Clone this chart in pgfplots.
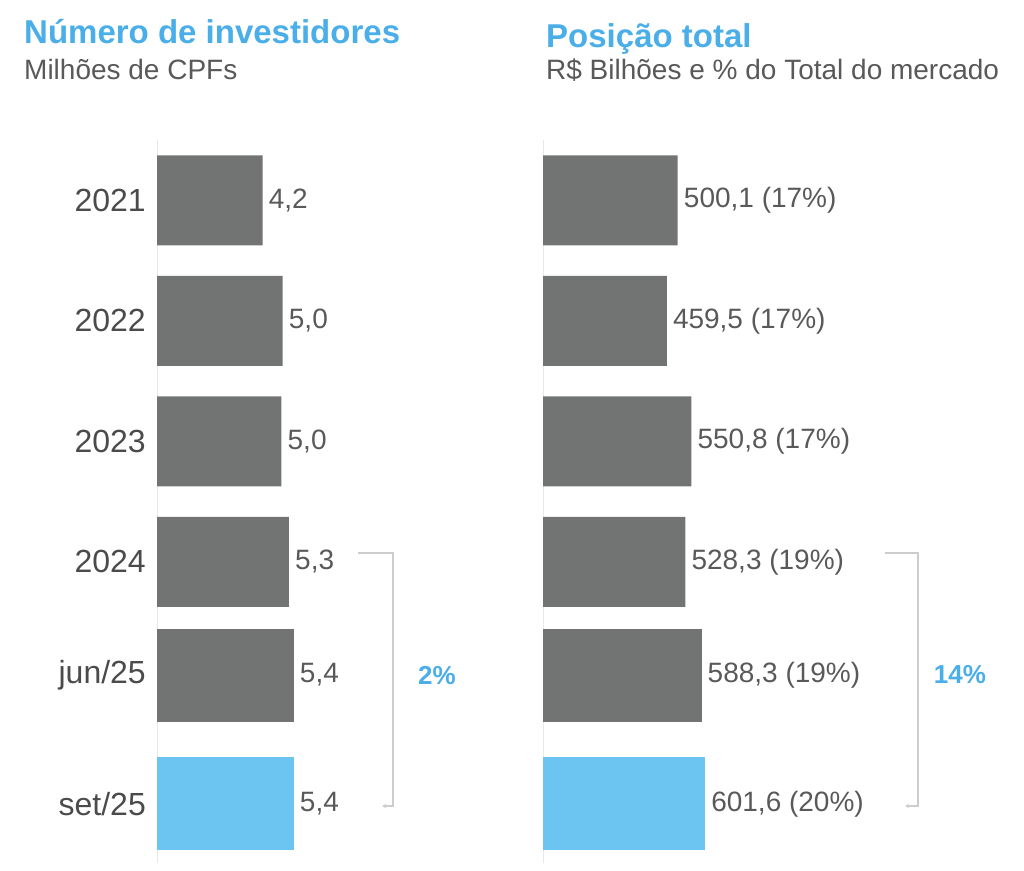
\documentclass[border=0pt]{standalone}
\usepackage{fontspec}
\setmainfont{Liberation Sans}
\usepackage{pgfplots}
\pgfplotsset{compat=1.18}
\usetikzlibrary{arrows.meta}
\definecolor{bargray}{RGB}{113,116,115}
\definecolor{barblue}{RGB}{108,197,240}
\definecolor{titleblue}{RGB}{74,174,232}
\definecolor{valgray}{RGB}{89,89,89}
\definecolor{tickgray}{RGB}{75,75,75}
\definecolor{axisgray}{RGB}{232,232,232}
\definecolor{brackgray}{RGB}{205,205,205}

\pgfplotsset{
  hbars/.style={
    scale only axis, anchor=south west,
    height=723pt, xbar, bar width=90pt,
    ymin=-0.5, ymax=5.5, y dir=reverse,
    axis x line=none, axis y line*=left,
    y axis line style={draw=axisgray, line width=1pt, -},
    ytick={0,1,2,3,3.94,5.01}, major tick length=0pt,
    point meta=explicit symbolic,
    nodes near coords={\pgfplotspointmeta},
    nodes near coords style={font=\fontsize{28}{31}\selectfont, text=valgray,
      anchor=west, inner sep=0pt, xshift=6pt},
    clip=false,
  },
}

\begin{document}
\begin{tikzpicture}
\path[use as bounding box] (0pt,0pt) rectangle (1024pt,870pt);

% titles
\node[anchor=base west, inner sep=0pt, text=titleblue,
  font=\fontsize{33}{36}\selectfont\bfseries] at (24pt,826pt) {Número de investidores};
\node[anchor=base west, inner sep=0pt, text=valgray,
  font=\fontsize{28}{30}\selectfont] at (24pt,790pt) {Milhões de CPFs};
\node[anchor=base west, inner sep=0pt, text=titleblue,
  font=\fontsize{33}{36}\selectfont\bfseries] at (546pt,822pt) {Posição total};
\node[anchor=base west, inner sep=0pt, text=valgray,
  font=\fontsize{28}{30}\selectfont] at (546pt,790pt) {R\$ Bilhões e \% do Total do mercado};

% investidores
\begin{axis}[hbars, at={(157pt,7pt)}, width=176pt, xmin=0, xmax=7,
  yticklabels={2021,2022,2023,2024,jun/25,set/25},
  yticklabel style={font=\fontsize{32}{35}\selectfont, text=tickgray,
    inner sep=0pt, xshift=-11pt}]
  \addplot[fill=bargray, draw=none, bar shift=0pt] coordinates {
    (4.2,0) [4,2]
    (5.0,1) [5,0]
    (4.95,2) [5,0]
    (5.25,3) [5,3]
  };
  \addplot[fill=bargray, draw=none, bar shift=0pt, bar width=93pt] coordinates {
    (5.44,3.94) [5,4]
  };
  \addplot[fill=barblue, draw=none, bar shift=0pt, bar width=93pt] coordinates {
    (5.44,5.01) [5,4]
  };
\end{axis}

% posicao total
\begin{axis}[hbars, at={(543pt,7pt)}, width=295pt, xmin=0, xmax=1095,
  yticklabels={}]
  \addplot[fill=bargray, draw=none, bar shift=0pt] coordinates {
    (500.1,0) [500,1 (17\%)]
    (459.5,1) [459,5 (17\%)]
    (550.8,2) [550,8 (17\%)]
    (528.3,3) [528,3 (19\%)]
  };
  \addplot[fill=bargray, draw=none, bar shift=0pt, bar width=93pt] coordinates {
    (588.3,3.94) [588,3 (19\%)]
  };
  \addplot[fill=barblue, draw=none, bar shift=0pt, bar width=93pt] coordinates {
    (601.6,5.01) [601,6 (20\%)]
  };
\end{axis}

% brackets
\draw[brackgray, line width=1.2pt, -{Stealth[length=4pt,width=4pt]}]
  (358pt,317pt) -- (393pt,317pt) -- (393pt,64pt) -- (382pt,64pt);
\draw[brackgray, line width=1.2pt, -{Stealth[length=4pt,width=4pt]}]
  (885pt,317pt) -- (918pt,317pt) -- (918pt,64pt) -- (905pt,64pt);
\node[text=titleblue, font=\fontsize{26}{28}\selectfont\bfseries] at (437pt,194pt) {2\%};
\node[text=titleblue, font=\fontsize{26}{28}\selectfont\bfseries] at (960pt,195pt) {14\%};
\end{tikzpicture}
\end{document}
